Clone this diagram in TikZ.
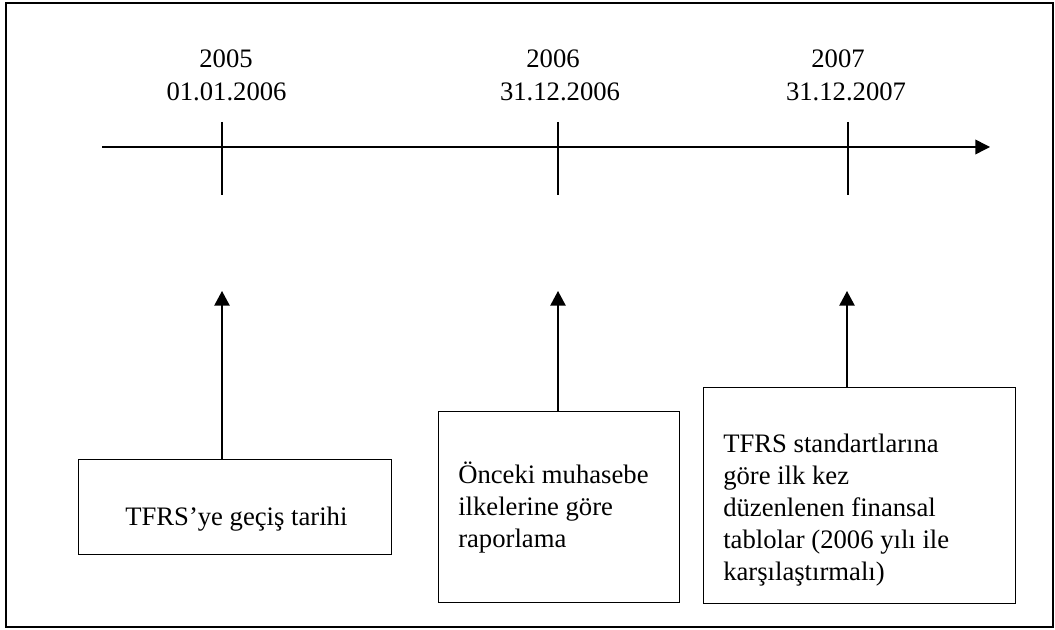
\documentclass[tikz,border=0pt]{standalone}
\usepackage{fontspec}
\setmainfont{Liberation Serif}
\usetikzlibrary{arrows.meta}
\begin{document}
\begin{tikzpicture}[x=0.75pt,y=-0.75pt,
  txt/.style={inner sep=0pt,font=\fontsize{20}{24}\selectfont},
  boxtxt/.style={txt,align=left,anchor=base west},
  frame/.style={line width=1.6pt},
  stepbox/.style={draw,line width=1.1pt,inner sep=0pt,anchor=north west},
  axis/.style={line width=1.1pt},
  uparrow/.style={line width=1.1pt,-{Triangle[length=11pt,width=11.5pt]}}]
\useasboundingbox (0,0) rectangle (1055,630);
\draw[frame] (6,3) rectangle (1053,627);
% timeline
\coordinate (ls) at (102,147);
\coordinate (le) at (990,147);
\draw[axis,-{Triangle[length=11pt,width=11pt]}] (ls) -- (le);
% ticks
\coordinate (k1t) at (222,122); \coordinate (k1b) at (222,195);
\coordinate (k2t) at (558,122); \coordinate (k2b) at (558,195);
\coordinate (k3t) at (848,122); \coordinate (k3b) at (848,195);
\draw[axis] (k1t) -- (k1b);
\draw[axis] (k2t) -- (k2b);
\draw[axis] (k3t) -- (k3b);
% labels
\node[txt] (y1) at (226,59) {2005};
\node[txt] (d1) at (226.5,92) {01.01.2006};
\node[txt] (y2) at (553,59) {2006};
\node[txt] (d2) at (560,92) {31.12.2006};
\node[txt] (y3) at (838,59) {2007};
\node[txt] (d3) at (846,92) {31.12.2007};
% boxes
\node[stepbox,minimum width=313*0.75pt,minimum height=95*0.75pt] (b1) at (78,459) {};
\node[stepbox,minimum width=241*0.75pt,minimum height=191*0.75pt] (b2) at (438,411) {};
\node[stepbox,minimum width=312*0.75pt,minimum height=216*0.75pt] (b3) at (703,387) {};
\node[boxtxt] (t1) at (125,525) {TFRS’ye geçiş tarihi};
\node[boxtxt] (t2) at (458,547) {Önceki muhasebe\\ilkelerine göre\\raporlama};
\node[boxtxt] (t3) at (723,580) {TFRS standartlarına\\göre ilk kez\\düzenlenen finansal\\tablolar (2006 yılı ile\\karşılaştırmalı)};
% arrows
\coordinate (a1) at (222,291);
\coordinate (a2) at (558,291);
\coordinate (a3) at (847,291);
\draw[uparrow] (b1.north -| a1) -- (a1);
\draw[uparrow] (b2.north -| a2) -- (a2);
\draw[uparrow] (b3.north -| a3) -- (a3);
\end{tikzpicture}
\end{document}
